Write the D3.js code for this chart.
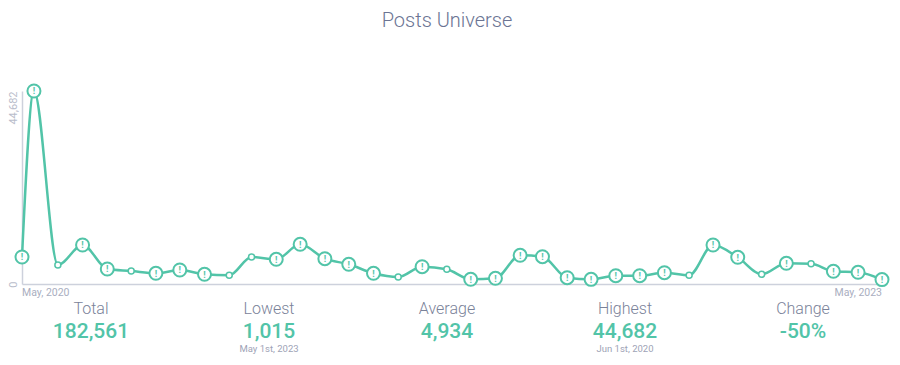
<!DOCTYPE html>
<html>
<head>
<meta charset="utf-8">
<script src="https://cdn.jsdelivr.net/npm/d3@7"></script>
<style>
  html, body { margin: 0; padding: 0; background: #fff; }
  svg { display: block; font-family: Roboto, "Noto Sans", sans-serif; }
</style>
</head>
<body>
<div id="chart"></div>
<script>
const title = "Posts Universe"

// monthly posts, first sample mid May 2020 then 1st of each month
const startDate = "2020-05-17"
const values = [6251, 44682, 4399, 9029, 3473, 3010, 2477, 3241, 2246, 2014,
    6251, 5718, 9191, 5857, 4561, 2477, 1621, 4005, 3403, 1088,
    1320, 6644, 6320, 1458, 1080, 1921, 1921, 2616, 2014, 9029,
    6181, 2246, 4792, 4699, 2940, 2709, 1015]
// points drawn without the "!" badge
const plainPoints = [2, 5, 9, 10, 16, 18, 28, 31, 33]

const xLabels = ["May, 2020", "May, 2023"]
const statLabels = ["Total", "Lowest", "Average", "Highest", "Change"]
const statValues = ["182,561", "1,015", "4,934", "44,682", "-50%"]
const statNotes = ["", "May 1st, 2023", "", "Jun 1st, 2020", ""]

const width = 900
const height = 365
const teal = "#52c4a8"
const axisColor = "#cdd1dc"

const dates = values.map((v, i) => {
    if (i === 0) return d3.isoParse(startDate)
    return new Date(2020, 5 + i - 1, 1)
})
const data = values.map((v, i) => ({date: dates[i], value: v, plain: plainPoints.includes(i)}))

const svg = d3.select("#chart").append("svg")
    .attr("width", width)
    .attr("height", height)

const x = d3.scaleTime()
    .domain(d3.extent(data, d => d.date))
    .range([22, 882])

const y = d3.scaleLinear()
    .domain([0, d3.max(values)])
    .range([284, 91])

svg.append("text")
    .attr("x", 447)
    .attr("y", 27)
    .attr("text-anchor", "middle")
    .attr("font-size", 20)
    .attr("font-weight", 300)
    .attr("fill", "#6b7493")
    .text(title)

// y axis: just the line and two rotated labels
const yAxis = d3.axisLeft(y)
    .tickValues([0, d3.max(values)])
    .tickSize(0)
    .tickPadding(0)
    .tickFormat(d3.format(","))

const gy = svg.append("g")
    .attr("transform", "translate(22,0)")
    .call(yAxis)
gy.select(".domain").attr("stroke", axisColor).attr("stroke-width", 1.5)
gy.selectAll(".tick text")
    .attr("x", null).attr("dy", null)
    .attr("transform", d => `translate(-5,${d === 0 ? -3 : 0}) rotate(-90)`)
    .attr("text-anchor", "end")
    .attr("font-family", "Roboto, sans-serif")
    .attr("font-size", 11)
    .attr("fill", "#b9bdcb")

// x axis line
const gx = svg.append("g")
    .attr("transform", `translate(0,${y(0)})`)
    .call(d3.axisBottom(x).tickValues([]).tickSizeOuter(0))
gx.select(".domain").attr("stroke", axisColor).attr("stroke-width", 1.5)

svg.append("text")
    .attr("x", x.range()[0])
    .attr("y", 296)
    .attr("font-size", 10.5)
    .attr("fill", "#a9aec0")
    .text(xLabels[0])
svg.append("text")
    .attr("x", x.range()[1])
    .attr("y", 296)
    .attr("text-anchor", "end")
    .attr("font-size", 10.5)
    .attr("fill", "#a9aec0")
    .text(xLabels[1])

const line = d3.line()
    .x(d => x(d.date))
    .y(d => y(d.value))
    .curve(d3.curveMonotoneX)

svg.append("path")
    .datum(data)
    .attr("fill", "none")
    .attr("stroke", teal)
    .attr("stroke-width", 2.5)
    .attr("d", line)

const pts = svg.append("g").selectAll("g")
    .data(data)
    .join("g")
    .attr("transform", d => `translate(${x(d.date)},${y(d.value)})`)

pts.append("circle")
    .attr("r", d => d.plain ? 3 : 6.5)
    .attr("fill", "#fff")
    .attr("stroke", teal)
    .attr("stroke-width", d => d.plain ? 1.5 : 2)

pts.filter(d => !d.plain).append("text")
    .attr("text-anchor", "middle")
    .attr("dy", "0.36em")
    .attr("font-size", 9)
    .attr("font-weight", 700)
    .attr("fill", teal)
    .text("!")

// stats row
const sx = d3.scalePoint()
    .domain(statLabels)
    .range([91, 803])

const stat = svg.append("g").selectAll("g")
    .data(statLabels)
    .join("g")
    .attr("transform", d => `translate(${sx(d)},0)`)
    .attr("text-anchor", "middle")

stat.append("text")
    .attr("y", 314)
    .attr("font-size", 16)
    .attr("font-weight", 300)
    .attr("fill", "#7a8299")
    .text(d => d)

stat.append("text")
    .attr("y", 338)
    .attr("font-size", 21)
    .attr("font-weight", 500)
    .attr("fill", teal)
    .text((d, i) => statValues[i])

stat.append("text")
    .attr("y", 352)
    .attr("font-size", 9.5)
    .attr("fill", "#9ea3b6")
    .text((d, i) => statNotes[i])
</script>
</body>
</html>
